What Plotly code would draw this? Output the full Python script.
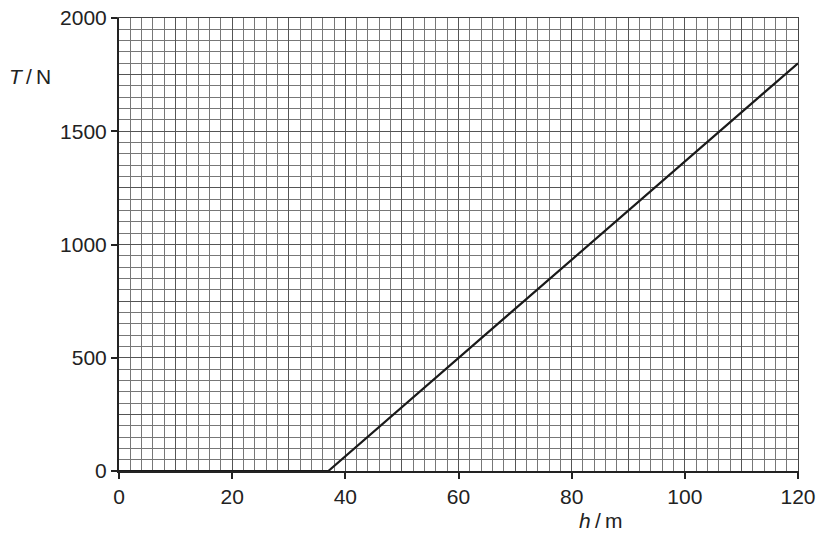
import plotly.graph_objects as go

# T against h: slack rope until h0, then linear
h = [0, 37, 120]
T = [0, 0, 1800]

x_ticks = [0, 20, 40, 60, 80, 100, 120]
y_ticks = [0, 500, 1000, 1500, 2000]

font = dict(family="Liberation Sans, Arial", size=21, color="#222")

W, H = 829, 539
L, R, TOP, B = 119, 31, 18, 68

fig = go.Figure()
fig.add_trace(go.Scatter(x=h, y=T, mode="lines",
                         line=dict(color="#1a1a1a", width=2.2),
                         showlegend=False, hoverinfo="skip"))
# dummy trace so the overlay axes exist
fig.add_trace(go.Scatter(x=[0], y=[0], xaxis="x2", yaxis="y2",
                         mode="markers", marker=dict(opacity=0),
                         showlegend=False, hoverinfo="skip"))

fig.update_layout(
    width=W, height=H,
    margin=dict(l=L, r=R, t=TOP, b=B, autoexpand=False),
    plot_bgcolor="white", paper_bgcolor="white",
    font=font,
    xaxis=dict(range=[0, 120], tickvals=x_ticks, showgrid=True,
               gridcolor="#333", gridwidth=1.3, automargin=False,
               ticklabeloverflow="allow",
               minor=dict(dtick=2, showgrid=True, gridcolor="#777", gridwidth=0.9),
               ticks="outside", ticklen=6, tickcolor="#222", tickwidth=1.5,
               showline=True, linecolor="#222", linewidth=2, mirror=False,
               zeroline=False),
    yaxis=dict(range=[0, 2000], tickvals=y_ticks, showgrid=True,
               gridcolor="#333", gridwidth=1.3, automargin=False,
               ticklabeloverflow="allow",
               minor=dict(dtick=50, showgrid=True, gridcolor="#777", gridwidth=0.9),
               ticks="outside", ticklen=6, tickcolor="#222", tickwidth=1.5,
               showline=True, linecolor="#222", linewidth=2, mirror=False,
               zeroline=False),
    xaxis2=dict(range=[0, 120], overlaying="x", dtick=10, showgrid=True,
                gridcolor="#555", gridwidth=1, showticklabels=False,
                zeroline=False, showline=True, linecolor="#444", linewidth=1,
                side="top", ticks="", automargin=False),
    yaxis2=dict(range=[0, 2000], overlaying="y", dtick=250, showgrid=True,
                gridcolor="#555", gridwidth=1, showticklabels=False,
                zeroline=False, showline=True, linecolor="#444", linewidth=1,
                side="right", ticks="", automargin=False),
    annotations=[
        dict(text="<i>T</i>\u2009/\u2009N", x=7, y=76, xref="paper", yref="paper",
             showarrow=False, xanchor="left", yanchor="middle"),
        dict(text="<i>h</i>\u2009/\u2009m", x=577, y=520, xref="paper", yref="paper",
             showarrow=False, xanchor="left", yanchor="middle"),
    ],
)

# annotations given in screen pixels -> paper coords
pw, ph = W - L - R, H - TOP - B
for a in fig.layout.annotations:
    px, py = a.x, a.y
    a.x = (px - L) / pw
    a.y = (H - B - py) / ph

# drop the default body margin so the figure fills the window exactly
fig.write_html("out.html", config={"displayModeBar": False},
               post_script="document.body.style.margin='0';document.body.style.overflow='hidden';")
